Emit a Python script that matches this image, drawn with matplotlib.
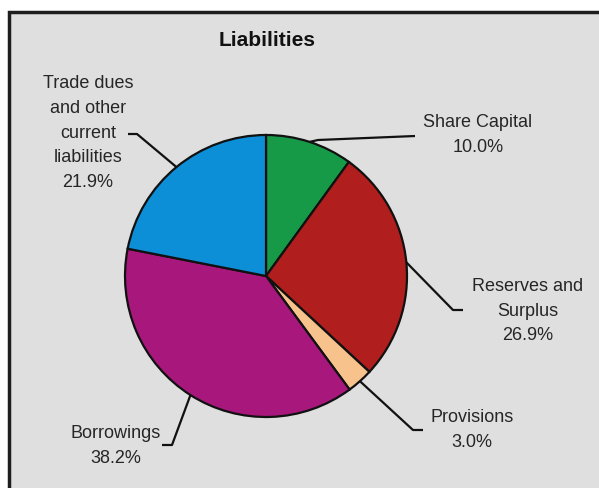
import numpy as np
import matplotlib
matplotlib.use("Agg")
import matplotlib.pyplot as plt
from matplotlib.patches import Rectangle

plt.rcParams['font.family'] = ['Liberation Sans', 'DejaVu Sans']

# liabilities breakdown, percent of total
categories = ["Share Capital", "Reserves and\nSurplus", "Provisions",
              "Borrowings", "Trade dues\nand other\ncurrent\nliabilities"]
shares = [10.0, 26.9, 3.0, 38.2, 21.9]
colors = ["#179a48", "#b01e1e", "#f7c28c", "#a8177b", "#0d8fd8"]

# label placement (pixels from top-left): elbow point, line end, text centre
label_layout = [
    ((318, 141), (415, 137), (478, 135)),
    ((453, 311), (463, 311), (528, 311)),
    ((413, 431), (423, 431), (472, 430)),
    ((172, 446), (162, 446), (116, 446)),
    ((137, 135), (128, 135), (88, 133)),
]

W, H = 599, 489
cx, cy, r = 266, 277, 141

fig = plt.figure(figsize=(W / 100, H / 100), dpi=100, facecolor="white")

# grey panel with dark border
overlay = fig.add_axes([0, 0, 1, 1])
overlay.set_xlim(0, W)
overlay.set_ylim(H, 0)
overlay.axis("off")
overlay.add_patch(Rectangle((9, 13), W + 10, H, facecolor="#dfdfdf",
                            edgecolor="#1e1e1e", linewidth=2.5))

ax = fig.add_axes([(cx - r) / W, (H - cy - r) / H, 2 * r / W, 2 * r / H])
wedges, _ = ax.pie(shares, colors=colors, startangle=90, counterclock=False,
                   radius=1, wedgeprops=dict(edgecolor="#111111", linewidth=1.6))
ax.set_xlim(-1, 1)
ax.set_ylim(-1, 1)
ax.axis("off")

overlay.text(267, 41, "Liabilities", ha="center", va="center",
             fontsize=15, fontweight="bold", color="#111111")

for w, name, val, (elbow, end, txt) in zip(wedges, categories, shares, label_layout):
    mid = np.deg2rad((w.theta1 + w.theta2) / 2)
    ax_x = cx + r * np.cos(mid)
    ax_y = cy - r * np.sin(mid)
    overlay.plot([ax_x, elbow[0], end[0]], [ax_y, elbow[1], end[1]],
                 color="#111111", linewidth=1.6, solid_capstyle="butt", zorder=5)
    overlay.text(txt[0], txt[1], f"{name}\n{val:.1f}%", ha="center", va="center",
                 fontsize=13, color="#262626", linespacing=1.6, zorder=6)

fig.savefig("out.png", dpi=100, facecolor="white")
